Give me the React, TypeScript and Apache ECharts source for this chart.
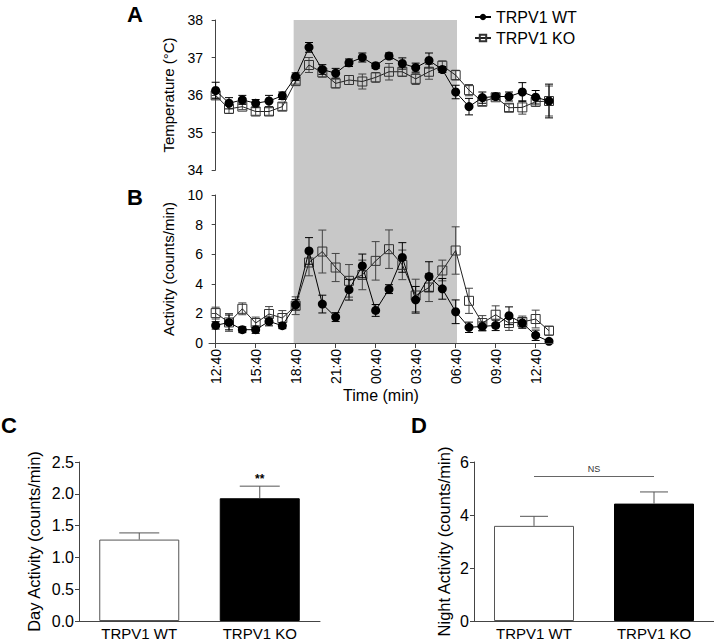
import { useEffect, useRef } from "react";
import * as echarts from "echarts";

const hours = [0, 1, 2, 3, 4, 5, 6, 7, 8, 9, 10, 11, 12, 13, 14, 15, 16, 17, 18, 19, 20, 21, 22, 23, 24, 25];
const timeTickHours = [0, 3, 6, 9, 12, 15, 18, 21, 24];
const timeTickLabels = ["12:40", "15:40", "18:40", "21:40", "00:40", "03:40", "06:40", "09:40", "12:40"];
const darkPhase = [5.85, 18.1];

const tempWT = [36.12, 35.78, 35.87, 35.78, 35.84, 35.98, 36.49, 37.27, 36.68, 36.58, 36.86, 37.0, 36.78, 37.04, 36.84, 36.73, 36.92, 36.68, 36.08, 35.69, 35.93, 35.96, 35.96, 36.08, 35.94, 35.84];
const tempWTErr = [0.22, 0.15, 0.12, 0.1, 0.15, 0.1, 0.1, 0.13, 0.13, 0.13, 0.1, 0.12, 0.07, 0.08, 0.15, 0.12, 0.2, 0.08, 0.18, 0.22, 0.15, 0.08, 0.12, 0.25, 0.18, 0.45];
const tempKO = [35.99, 35.63, 35.69, 35.56, 35.56, 35.69, 36.37, 36.8, 36.6, 36.31, 36.4, 36.36, 36.47, 36.62, 36.62, 36.43, 36.62, 36.78, 36.53, 36.13, 35.82, 35.94, 35.66, 35.67, 35.82, 35.84];
const tempKOErr = [0.07, 0.12, 0.08, 0.1, 0.1, 0.1, 0.08, 0.2, 0.12, 0.12, 0.12, 0.2, 0.13, 0.22, 0.12, 0.15, 0.2, 0.13, 0.13, 0.15, 0.1, 0.07, 0.1, 0.18, 0.12, 0.4];

const actWT = [1.19, 1.39, 0.9, 0.9, 1.46, 1.17, 2.58, 6.22, 2.63, 1.75, 3.6, 5.21, 2.2, 3.64, 5.78, 2.92, 4.49, 3.66, 2.11, 1.06, 1.12, 1.19, 1.84, 1.35, 0.52, 0.11];
const actWTErr = [0.25, 0.5, 0.2, 0.25, 0.3, 0.2, 0.35, 0.9, 0.6, 0.3, 0.7, 0.8, 0.4, 0.3, 1.0, 0.9, 1.0, 0.7, 0.8, 0.35, 0.3, 0.35, 0.6, 0.35, 0.35, 0.1];
const actKO = [2.02, 1.39, 2.31, 1.35, 1.96, 1.69, 2.52, 5.44, 6.18, 5.1, 4.2, 4.6, 5.55, 6.34, 5.28, 3.21, 3.75, 4.9, 6.25, 2.85, 1.35, 1.91, 1.35, 1.42, 1.62, 0.83];
const actKOErr = [0.4, 0.6, 0.4, 0.4, 0.5, 0.5, 0.6, 0.9, 1.45, 0.95, 1.1, 1.0, 1.3, 1.3, 1.0, 1.1, 0.95, 0.7, 1.6, 0.85, 0.5, 0.6, 0.5, 0.4, 0.6, 0.3];

const groups = ["TRPV1 WT", "TRPV1 KO"];
const dayActivity = [1.28, 1.93];
const dayActivityErr = [0.105, 0.19];
const daySig = ["", "**"];
const nightActivity = [3.59, 4.43];
const nightActivityErr = [0.36, 0.44];
const nightSigLevel = 5.47;
const nightSigText = "NS";

const FONT = "Liberation Sans";
const AXIS_COLOR = "#444";

function errRender(color: string, cap: number, both: boolean, sig?: string[]) {
  return (params: any, api: any) => {
    const x = api.value(0);
    const lo = api.value(1);
    const hi = api.value(2);
    const a = api.coord([x, lo]);
    const b = api.coord([x, hi]);
    const st = { stroke: color, lineWidth: 1 };
    const children: any[] = [
      { type: "line", shape: { x1: a[0], y1: a[1], x2: b[0], y2: b[1] }, style: st },
      { type: "line", shape: { x1: b[0] - cap / 2, y1: b[1], x2: b[0] + cap / 2, y2: b[1] }, style: st },
    ];
    if (both) {
      children.push({ type: "line", shape: { x1: a[0] - cap / 2, y1: a[1], x2: a[0] + cap / 2, y2: a[1] }, style: st });
    }
    if (sig && sig[params.dataIndex]) {
      children.push({
        type: "text",
        style: {
          text: sig[params.dataIndex],
          x: b[0],
          y: b[1] - 1,
          align: "center",
          verticalAlign: "bottom",
          font: `bold 12px ${FONT}`,
          fill: "#000",
        },
      });
    }
    return { type: "group", children };
  };
}

const rangeData = (vals: number[], errs: number[]) => hours.map((h, i) => [h, vals[i] - errs[i], vals[i] + errs[i]]);
const lineData = (vals: number[]) => hours.map((h, i) => [h, vals[i]]);

export default function App() {
  const ref = useRef<HTMLDivElement>(null);
  useEffect(() => {
    if (!ref.current) return;
    const chart = echarts.init(ref.current, undefined, { renderer: "svg" });

    const yAxisBase = {
      axisLine: { show: true, lineStyle: { color: AXIS_COLOR, width: 1 } },
      axisTick: { show: true, length: 4, lineStyle: { color: AXIS_COLOR } },
      axisLabel: { color: "#000", fontSize: 14, fontFamily: FONT, margin: 6 },
      splitLine: { show: false },
      nameLocation: "middle" as const,
      nameTextStyle: { color: "#000", fontSize: 15, fontFamily: FONT },
    };
    const barYAxis = {
      ...yAxisBase,
      axisLabel: { color: "#000", fontSize: 16, fontFamily: FONT, margin: 5 },
      nameTextStyle: { color: "#000", fontSize: 16.5, fontFamily: FONT },
    };

    const timeX = { type: "value" as const, min: -0.5, max: 25.3 };

    const wtLine = {
      type: "line" as const,
      name: "TRPV1 WT",
      symbol: "circle",
      symbolSize: 9,
      itemStyle: { color: "#000" },
      lineStyle: { color: "#000", width: 1 },
      z: 4,
    };
    const koLine = {
      type: "line" as const,
      name: "TRPV1 KO",
      symbol: "rect",
      symbolSize: 9,
      itemStyle: { color: "rgba(0,0,0,0)", borderColor: "#333", borderWidth: 1 },
      lineStyle: { color: "#222", width: 1 },
      z: 3,
    };

    const catX = (gridIndex: number) => ({
      type: "category",
      gridIndex,
      data: groups,
      axisLine: { show: true, lineStyle: { color: AXIS_COLOR, width: 1 } },
      axisTick: { show: false },
      axisLabel: { color: "#000", fontSize: 15, fontFamily: FONT, margin: 5 },
    });

    const gridBase = { outerBoundsMode: "none", containLabel: false };

    const option: any = {
      animation: false,
      textStyle: { fontFamily: FONT },
      legend: {
        data: ["TRPV1 WT", "TRPV1 KO"],
        orient: "vertical",
        left: 469,
        top: 4,
        itemWidth: 16,
        itemHeight: 8,
        itemGap: 5,
        textStyle: { fontSize: 16, color: "#000", fontFamily: FONT },
      },
      grid: [
        { ...gridBase, left: 209, top: 20, width: 344, height: 323 },
        { ...gridBase, left: 209, top: 20, width: 344, height: 150 },
        { ...gridBase, left: 209, top: 195, width: 344, height: 148 },
        { ...gridBase, left: 79, top: 462, width: 241, height: 159 },
        { ...gridBase, left: 474, top: 462, width: 240, height: 159 },
      ],
      xAxis: [
        { ...timeX, gridIndex: 0, show: false },
        { ...timeX, gridIndex: 1, show: false },
        {
          ...timeX,
          gridIndex: 2,
          z: 10,
          axisLine: { show: true, onZero: false, lineStyle: { color: AXIS_COLOR, width: 1 } },
          axisTick: { show: true, length: 5, customValues: timeTickHours, lineStyle: { color: AXIS_COLOR } },
          axisLabel: {
            customValues: timeTickHours,
            rotate: 90,
            margin: 6,
            fontSize: 14,
            color: "#000",
            fontFamily: FONT,
            formatter: (v: number) => timeTickLabels[timeTickHours.indexOf(v)] ?? "",
          },
          splitLine: { show: false },
          name: "Time (min)",
          nameLocation: "middle",
          nameGap: 44,
          nameTextStyle: { color: "#000", fontSize: 16, fontFamily: FONT },
        },
        catX(3),
        catX(4),
      ],
      yAxis: [
        { type: "value", gridIndex: 0, min: 0, max: 1, show: false },
        { ...yAxisBase, type: "value", gridIndex: 1, min: 34, max: 38, interval: 1, name: "Temperature (°C)", nameGap: 33 },
        { ...yAxisBase, type: "value", gridIndex: 2, min: 0, max: 10, interval: 2, name: "Activity (counts/min)", nameGap: 33 },
        {
          ...barYAxis,
          type: "value",
          gridIndex: 3,
          min: 0,
          max: 2.5,
          interval: 0.5,
          name: "Day Activity (counts/min)",
          nameGap: 37,
          axisLabel: { ...barYAxis.axisLabel, formatter: (v: number) => v.toFixed(1) },
        },
        { ...barYAxis, type: "value", gridIndex: 4, min: 0, max: 6, interval: 2, name: "Night Activity (counts/min)", nameGap: 22 },
      ],
      series: [
        {
          type: "line",
          name: "dark",
          xAxisIndex: 0,
          yAxisIndex: 0,
          data: [],
          z: 0,
          silent: true,
          markArea: {
            silent: true,
            itemStyle: { color: "#c8c8c8" },
            data: [[{ xAxis: darkPhase[0] }, { xAxis: darkPhase[1] }]],
          },
        },
        // Panel A
        {
          type: "custom",
          name: "errA_KO",
          xAxisIndex: 1,
          yAxisIndex: 1,
          data: rangeData(tempKO, tempKOErr),
          renderItem: errRender("#444", 8, true),
          z: 2,
          silent: true,
        },
        {
          type: "custom",
          name: "errA_WT",
          xAxisIndex: 1,
          yAxisIndex: 1,
          data: rangeData(tempWT, tempWTErr),
          renderItem: errRender("#000", 8, true),
          z: 2,
          silent: true,
        },
        { ...koLine, xAxisIndex: 1, yAxisIndex: 1, data: lineData(tempKO) },
        { ...wtLine, xAxisIndex: 1, yAxisIndex: 1, data: lineData(tempWT) },
        // Panel B
        {
          type: "custom",
          name: "errB_KO",
          xAxisIndex: 2,
          yAxisIndex: 2,
          data: rangeData(actKO, actKOErr),
          renderItem: errRender("#444", 8, true),
          z: 2,
          silent: true,
        },
        {
          type: "custom",
          name: "errB_WT",
          xAxisIndex: 2,
          yAxisIndex: 2,
          data: rangeData(actWT, actWTErr),
          renderItem: errRender("#000", 8, true),
          z: 2,
          silent: true,
        },
        { ...koLine, xAxisIndex: 2, yAxisIndex: 2, data: lineData(actKO) },
        { ...wtLine, xAxisIndex: 2, yAxisIndex: 2, data: lineData(actWT) },
        // Panel C
        {
          type: "bar",
          name: "day",
          xAxisIndex: 3,
          yAxisIndex: 3,
          barWidth: 80,
          data: [
            { value: dayActivity[0], itemStyle: { color: "#fff", borderColor: "#555", borderWidth: 1 } },
            { value: dayActivity[1], itemStyle: { color: "#000", borderColor: "#000", borderWidth: 1 } },
          ],
        },
        {
          type: "custom",
          name: "errC",
          xAxisIndex: 3,
          yAxisIndex: 3,
          data: groups.map((_, i) => [i, dayActivity[i], dayActivity[i] + dayActivityErr[i]]),
          renderItem: errRender("#555", 40, false, daySig),
          z: 3,
          silent: true,
        },
        // Panel D
        {
          type: "bar",
          name: "night",
          xAxisIndex: 4,
          yAxisIndex: 4,
          barWidth: 80,
          data: [
            { value: nightActivity[0], itemStyle: { color: "#fff", borderColor: "#555", borderWidth: 1 } },
            { value: nightActivity[1], itemStyle: { color: "#000", borderColor: "#000", borderWidth: 1 } },
          ],
          markLine: {
            silent: true,
            symbol: "none",
            lineStyle: { color: "#666", width: 1, type: "solid" },
            label: {
              show: true,
              formatter: nightSigText,
              position: "insideMiddleTop",
              distance: 3,
              fontSize: 9,
              color: "#333",
              fontFamily: FONT,
            },
            data: [[{ coord: [0, nightSigLevel] }, { coord: [1, nightSigLevel] }]],
          },
        },
        {
          type: "custom",
          name: "errD",
          xAxisIndex: 4,
          yAxisIndex: 4,
          data: groups.map((_, i) => [i, nightActivity[i], nightActivity[i] + nightActivityErr[i]]),
          renderItem: errRender("#555", 28, false),
          z: 3,
          silent: true,
        },
      ],
      graphic: [
        { type: "text", left: 127, top: 3, style: { text: "A", font: `bold 22px ${FONT}`, fill: "#000" } },
        { type: "text", left: 127, top: 186, style: { text: "B", font: `bold 22px ${FONT}`, fill: "#000" } },
        { type: "text", left: 1, top: 414, style: { text: "C", font: `bold 22px ${FONT}`, fill: "#000" } },
        { type: "text", left: 411, top: 414, style: { text: "D", font: `bold 22px ${FONT}`, fill: "#000" } },
      ],
    };

    chart.setOption(option);
    return () => chart.dispose();
  }, []);

  return (
    <div
      ref={ref}
      style={{ position: "absolute", left: 0, top: 0, width: 714, height: 642, background: "#fff" }}
    />
  );
}
